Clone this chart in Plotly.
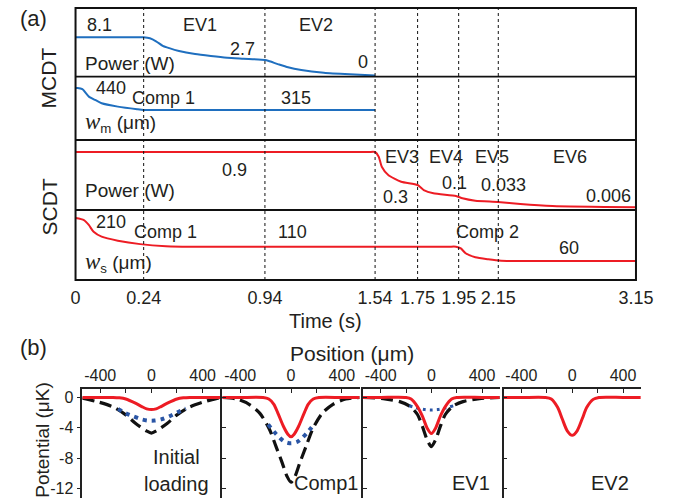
import numpy as np
import plotly.graph_objects as go

W, H = 682, 498
FONT = "Liberation Sans, Arial, sans-serif"
TXT = "#231f20"
BLUE = "#1f6fbf"
RED = "#ed1c24"
NAVY = "#2a55a5"

# ---------------- data: panel (a) ----------------
tick_times = [0, 0.24, 0.94, 1.54, 1.75, 1.95, 2.15, 3.15]
tick_labels = ["0", "0.24", "0.94", "1.54", "1.75", "1.95", "2.15", "3.15"]
tick_pos = [0, 70.5, 196, 310, 354, 396.5, 437.5, 580]  # display scale of the broken time axis

mcdt_power_t = [0, 0.22, 0.24, 0.276, 0.314, 0.350, 0.388, 0.444, 0.537, 0.628, 0.722, 0.816,
                0.94, 0.961, 1.014, 1.066, 1.138, 1.261, 1.402, 1.54]
mcdt_power_w = [8.1, 8.1, 8.1, 7.9, 7.2, 6.3, 5.8, 5.2, 4.55, 4.13, 3.77, 3.56,
                3.29, 3.07, 2.37, 1.74, 1.17, 0.59, 0.25, 0.0]

mcdt_w_t = [0, 0.007, 0.024, 0.047, 0.069, 0.092, 0.149, 0.217, 0.24, 0.30, 1.54]
mcdt_w_um = [440, 440, 433, 391, 372, 353, 334, 319, 315, 315, 315]

scdt_power_t = [0, 1.50, 1.54, 1.558, 1.573, 1.605, 1.669, 1.75, 1.78, 1.827, 1.937, 1.969,
                2.034, 2.148, 2.31, 2.544, 3.15]
scdt_power_w = [0.9, 0.9, 0.9, 0.825, 0.664, 0.531, 0.423, 0.370, 0.289, 0.236, 0.193, 0.156,
                0.117, 0.096, 0.064, 0.032, 0.011]

scdt_w_t = [0, 0.0296, 0.0466, 0.0637, 0.0919, 0.149, 0.228, 0.369, 0.555, 1.90, 1.937,
            1.961, 1.985, 2.034, 2.099, 2.170, 2.40, 3.15]
scdt_w_um = [210, 203, 186, 162, 145, 131, 119, 112, 110, 110, 110,
             104, 87, 73, 66, 61, 60, 60]

event_times = [0.24, 0.94, 1.54, 1.75, 1.95, 2.15]

# ---------------- data: panel (b) ----------------
p1_red_x = [-540, -420, -300, -250, -200, -125, -75, -37, 0, 37, 75, 125, 200, 250, 300, 420, 540]
p1_red_y = [0, 0, 0, -0.05, -0.2, -0.75, -1.2, -1.5, -1.6, -1.5, -1.2, -0.75, -0.2, -0.05, 0, 0, 0]
p1_blue_x = [-260, -200, -140, -75, -25, 25, 75, 140, 200, 270]
p1_blue_y = [-1.5, -2.1, -2.5, -2.9, -3.05, -3.05, -2.9, -2.5, -2.0, -1.45]
p1_black_x = [-540, -425, -300, -200, -125, -40, 0, 40, 125, 200, 300, 425, 540]
p1_black_y = [-0.1, -0.55, -1.25, -2.3, -3.4, -4.4, -4.7, -4.4, -3.4, -2.3, -1.25, -0.5, 0]

p2_red_x = [-540, -400, -220, -175, -135, -100, -60, -25, 0, 25, 60, 100, 135, 175, 220, 400, 540]
p2_red_y = [0, 0, 0, -0.2, -0.9, -2.2, -3.8, -4.85, -5.2, -4.85, -3.8, -2.2, -0.9, -0.2, 0, 0, 0]
p2_blue_x = [-180, -135, -90, -50, 0, 50, 90, 135, 180]
p2_blue_y = [-3.55, -4.5, -5.3, -5.85, -6.05, -5.85, -5.3, -4.5, -3.55]
p2_black_x = [-540, -430, -330, -245, -170, -120, -70, -32, 0, 32, 70, 120, 170, 245, 330, 430, 540]
p2_black_y = [0, -0.2, -0.9, -2.1, -4.2, -6.4, -8.6, -10.4, -11.2, -10.4, -8.6, -6.4, -4.2, -2.1, -0.9, -0.2, 0]

p3_red_x = [-540, -400, -200, -160, -110, -70, -33, 0, 33, 70, 110, 160, 200, 400, 540]
p3_red_y = [0, 0, 0, -0.2, -1.2, -2.5, -4.05, -4.75, -4.05, -2.5, -1.2, -0.2, 0, 0, 0]
p3_blue_x = [-175, -100, -50, 0, 50, 100, 175]
p3_blue_y = [-1.1, -1.45, -1.6, -1.65, -1.6, -1.45, -1.1]
p3_black_x = [-540, -380, -250, -170, -110, -70, -33, 0, 33, 70, 110, 170, 250, 380, 540]
p3_black_y = [0, -0.15, -0.55, -1.15, -2.25, -3.85, -5.6, -6.5, -5.6, -3.85, -2.25, -1.15, -0.55, -0.15, 0]

p4_red_x = [-540, -400, -210, -165, -115, -78, -39, 0, 39, 78, 115, 165, 210, 400, 540]
p4_red_y = [0, 0, 0, -0.2, -1.3, -2.85, -4.4, -5.0, -4.4, -2.85, -1.3, -0.25, 0, 0, 0]

pos_ticks = [-400, 0, 400]
pos_ticktext = ["-400", "0", "400"]
pos_minor_step = 200
pot_ticks = [0, -4, -8, -12]
pot_ticktext = ["0", "-4", "-8", "-12"]


def px(x):
    return x / W


def py(y):
    return 1 - y / H


def tpos(t):
    return np.interp(np.asarray(t, dtype=float), tick_times, tick_pos)


fig = go.Figure()

# ---- panel (a) traces ----
line_a = dict(shape="spline", smoothing=0.6, width=2)
fig.add_trace(go.Scatter(x=tpos(mcdt_power_t), y=mcdt_power_w, mode="lines",
                         line=dict(color=BLUE, **line_a), xaxis="x", yaxis="y"))
fig.add_trace(go.Scatter(x=tpos(mcdt_w_t), y=mcdt_w_um, mode="lines",
                         line=dict(color=BLUE, **line_a), xaxis="x", yaxis="y2"))
fig.add_trace(go.Scatter(x=tpos(scdt_power_t), y=scdt_power_w, mode="lines",
                         line=dict(color=RED, **line_a), xaxis="x", yaxis="y3"))
fig.add_trace(go.Scatter(x=tpos(scdt_w_t), y=scdt_w_um, mode="lines",
                         line=dict(color=RED, **line_a), xaxis="x", yaxis="y4"))

# ---- panel (b) traces ----
panels = [
    (p1_red_x, p1_red_y, p1_blue_x, p1_blue_y, p1_black_x, p1_black_y, 4),
    (p2_red_x, p2_red_y, p2_blue_x, p2_blue_y, p2_black_x, p2_black_y, 4),
    (p3_red_x, p3_red_y, p3_blue_x, p3_blue_y, p3_black_x, p3_black_y, 3),
    (p4_red_x, p4_red_y, None, None, None, None, 0),
]
for i, (rx, ry, bx, by, kx, ky, bw) in enumerate(panels):
    xa, ya = "x%d" % (i + 5), "y%d" % (i + 5)
    if kx is not None:
        fig.add_trace(go.Scatter(x=kx, y=ky, mode="lines", xaxis=xa, yaxis=ya,
                                 line=dict(color="#111111", width=3.2, dash="12px,6px",
                                           shape="spline", smoothing=0.8)))
    if bx is not None:
        fig.add_trace(go.Scatter(x=bx, y=by, mode="lines", xaxis=xa, yaxis=ya,
                                 line=dict(color=NAVY, width=bw, dash="%dpx,%dpx" % (bw, bw + 1),
                                           shape="spline", smoothing=0.8)))
    fig.add_trace(go.Scatter(x=rx, y=ry, mode="lines", xaxis=xa, yaxis=ya,
                             line=dict(color=RED, width=3, shape="spline", smoothing=0.8)))

layout = dict(
    width=W, height=H, margin=dict(l=0, r=0, t=0, b=0),
    paper_bgcolor="white", plot_bgcolor="rgba(0,0,0,0)", showlegend=False,
    font=dict(family=FONT, color=TXT, size=16),
)

# panel (a) axes
layout["xaxis"] = dict(domain=[px(73), px(653)], range=[0, 580], anchor="y4",
                       tickvals=list(tpos(tick_times)), ticktext=tick_labels,
                       ticks="outside", ticklen=1, tickcolor="rgba(0,0,0,0)",
                       tickfont=dict(size=18, family=FONT, color=TXT),
                       showgrid=False, zeroline=False, showline=False)
ya_common = dict(anchor="x", visible=False, showgrid=False, zeroline=False)
layout["yaxis"] = dict(domain=[py(76.7), py(8)], range=[-0.25, 14.31], **ya_common)
layout["yaxis2"] = dict(domain=[py(140), py(76.7)], range=[144.5, 504], **ya_common)
layout["yaxis3"] = dict(domain=[py(210), py(140)], range=[-0.032, 1.093], **ya_common)
layout["yaxis4"] = dict(domain=[py(280), py(210)], range=[-6.4, 238.3], **ya_common)

# panel (b) axes
b_domains = [(80, 223), (225, 367), (370.5, 512), (516, 658)]
for i, (x0, x1) in enumerate(b_domains):
    n = i + 5
    layout["xaxis%d" % n] = dict(domain=[px(x0), px(x1)], range=[-540, 540], anchor="y%d" % n,
                                side="top", tickvals=pos_ticks, ticktext=pos_ticktext,
                                ticks="inside", ticklen=4, tickwidth=1.2, tickcolor="#222",
                                minor=dict(dtick=pos_minor_step, tick0=0, ticks="inside",
                                           ticklen=4, tickwidth=1.2, tickcolor="#222",
                                           showgrid=False),
                                showline=True, linecolor="#222", linewidth=1.5,
                                showgrid=False, zeroline=False,
                                tickfont=dict(size=16, family=FONT, color=TXT))
    layout["yaxis%d" % n] = dict(domain=[0, py(389)], range=[-13.28, 1.12], anchor="x%d" % n,
                                tickvals=pot_ticks, ticktext=pot_ticktext,
                                ticks="outside" if i == 0 else "inside", ticklen=4,
                                tickwidth=1.2, tickcolor="#222",
                                showticklabels=(i == 0), showline=True, linecolor="#222",
                                linewidth=1.5, showgrid=False, zeroline=False,
                                tickfont=dict(size=16, family=FONT, color=TXT))

shapes = []
# outer frame and dividers of panel (a)
shapes.append(dict(type="rect", xref="paper", yref="paper", x0=px(73), x1=px(653),
                   y0=py(280), y1=py(8), line=dict(color="#111", width=2)))
for yy in [76.7, 140, 210]:
    shapes.append(dict(type="line", xref="paper", yref="paper", x0=px(73), x1=px(653),
                       y0=py(yy), y1=py(yy), line=dict(color="#111", width=1.8)))
for t in event_times:
    xv = float(tpos(t))
    shapes.append(dict(type="line", xref="x", yref="paper", x0=xv, x1=xv,
                       y0=py(280), y1=py(8), line=dict(color="#111", width=1, dash="3px,3px")))
layout["shapes"] = shapes

ann = []


def add(text, x, y, size=18, xanchor="center", angle=0):
    ann.append(dict(text=text, x=px(x), y=py(y), xref="paper", yref="paper",
                    xanchor=xanchor, yanchor="middle", showarrow=False, textangle=angle,
                    font=dict(size=size, family=FONT, color=TXT)))


WSERIF = '<span style="font-family:Liberation Serif, serif; font-size:23px"><i>w</i></span>'
# panel (a) labels
add("(a)", 30, 18, 22)
add("MCDT", 46, 78, 21, angle=-90)
add("SCDT", 46, 207, 21, angle=-90)
add("8.1", 83, 25, 18, "left")
add("EV1", 202, 25)
add("EV2", 322, 25)
add("2.7", 246, 49)
add("Power (W)", 81, 63, 19, "left")
add("0", 370, 62)
add("440", 92, 88, 18, "left")
add("Comp 1", 164, 98)
add("315", 301, 98)
add(WSERIF + "<sub>m</sub> (μm)", 81, 123, 19, "left")
add("0.9", 237, 170)
add("Power (W)", 81, 190, 19, "left")
add("EV3", 411, 157)
add("EV4", 456, 157)
add("EV5", 504, 157)
add("EV6", 585, 157)
add("0.3", 404, 197)
add("0.1", 465, 183)
add("0.033", 516, 185)
add("0.006", 625, 196)
add("210", 92, 222, 18, "left")
add("Comp 1", 166, 232)
add("110", 298, 232)
add(WSERIF + "<sub>s</sub> (μm)", 81, 262, 19, "left")
add("Comp 2", 499, 232)
add("60", 584, 248)
add("Time (s)", 332, 321, 20)
# panel (b) labels
add("(b)", 30, 347, 22)
add("Position (μm)", 359, 353, 21)
add("Potential (μK)", 38, 440, 19, angle=-90)
add("Initial", 178, 457, 20)
add("loading", 178, 484, 20)
add("Comp1", 367, 483, 20, "right")
add("EV1", 504, 483, 20, "right")
add("EV2", 648, 483, 20, "right")
layout["annotations"] = ann

fig.update_layout(**layout)
fig.write_html("out.html")
